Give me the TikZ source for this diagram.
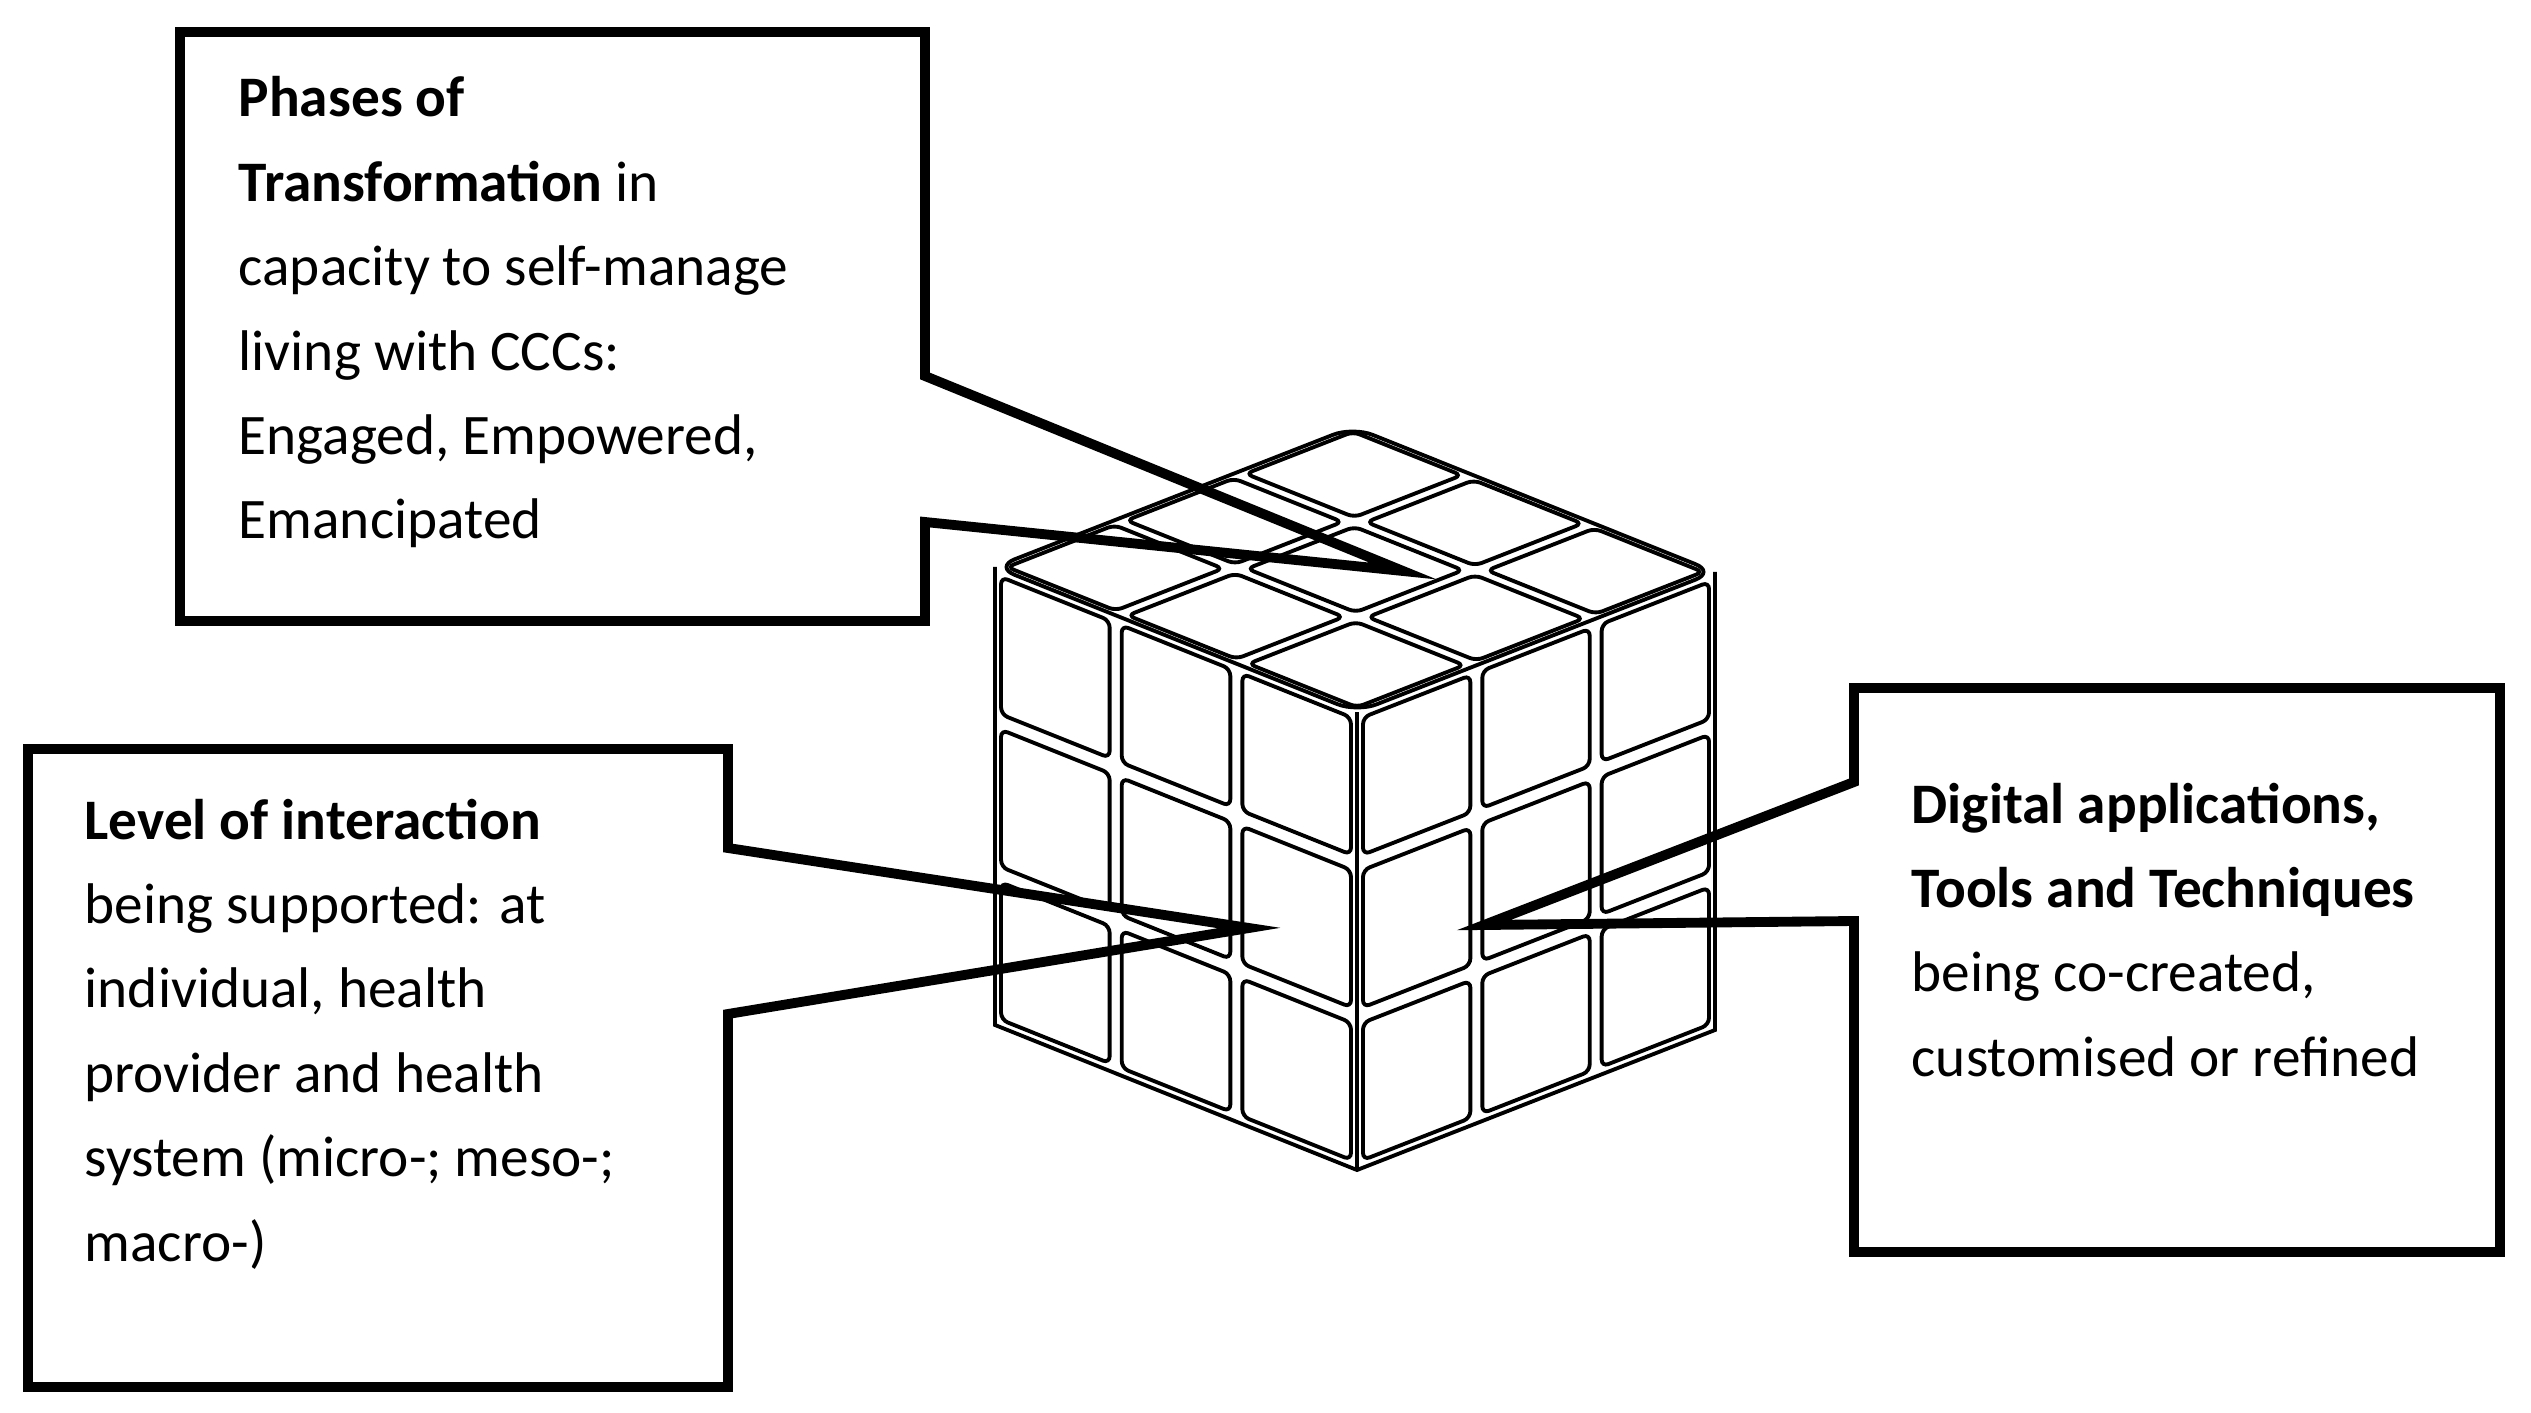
\documentclass[tikz,border=0pt]{standalone}
\usepackage{fontspec}
\setmainfont{Carlito}
\usetikzlibrary{calc}
\begin{document}
\begin{tikzpicture}[x=0.01cm,y=-0.01cm,
  callout/.style={line width=2.8pt,line join=miter},
  txt/.style={anchor=north west,inner sep=0pt,align=left,font=\fontsize{16.3}{24}\selectfont},
  facet/.style={line width=1.1pt,rounded corners=2pt}]
\useasboundingbox (0,0) rectangle (2531,1413);
% cube
\coordinate (F) at (1357,712);
\def\face#1#2#3{% origin, u, v
  \foreach \i in {0,1,2}{\foreach \j in {0,1,2}{
    \draw[facet] ($#1+{(\i+0.05)/3}*#2+{(\j+0.05)/3}*#3$) -- ($#1+{(\i+0.95)/3}*#2+{(\j+0.05)/3}*#3$) -- ($#1+{(\i+0.95)/3}*#2+{(\j+0.95)/3}*#3$) -- ($#1+{(\i+0.05)/3}*#2+{(\j+0.95)/3}*#3$) -- cycle;
  }}}
\face{(F)}{(-362,-145)}{(358,-140)}
\face{(F)}{(-362,-145)}{(0,458)}
\face{(F)}{(358,-140)}{(0,458)}
\draw[line width=1.1pt,rounded corners=6pt] (F) -- ++(-362,-145) -- ++(358,-140) -- ++(362,145) -- cycle;
\draw[line width=1.1pt] (F) -- ++(0,458) (F) ++(-362,-145) -- ++(0,458) -- ++(362,145) -- ++(358,-140) -- ++(0,-458);
% callouts
\coordinate (t1) at (1403,571);
\coordinate (t2) at (1249,928);
\coordinate (t3) at (1484,925);
\draw[callout] (180,32) -- (925,32) -- (925,376) -- (t1) -- (925,522) -- (925,621) -- (180,621) -- cycle;
\draw[callout] (28,749) -- (728,749) -- (728,848) -- (t2) -- (728,1014) -- (728,1387) -- (28,1387) -- cycle;
\draw[callout] (1854,688) -- (2500,688) -- (2500,1252) -- (1854,1252) -- (1854,921) -- (t3) -- (1854,782) -- cycle;
\node[txt] (a) at (238,76) {\textbf{Phases of}\\\textbf{Transformation} in\\capacity to self-manage\\living with CCCs:\\Engaged, Empowered,\\Emancipated};
\node[txt] (b) at (84,798) {\textbf{Level of interaction}\\being supported: at\\individual, health\\provider and health\\system (micro-; meso-;\\macro-)};
\node[txt] (c) at (1911,782) {\textbf{Digital applications,}\\\textbf{Tools and Techniques}\\being co-created,\\customised or refined};
\end{tikzpicture}
\end{document}
